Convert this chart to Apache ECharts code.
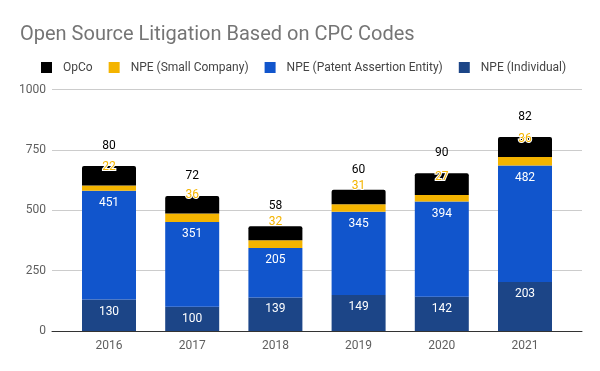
<!DOCTYPE html>
<html><head><meta charset="utf-8">
<script src="https://cdn.jsdelivr.net/npm/echarts@6/dist/echarts.min.js"></script>
<style>html,body{margin:0;padding:0;background:#fff}#c{width:600px;height:371px}</style>
</head><body><div id="c"></div>
<script>
const years = ['2016', '2017', '2018', '2019', '2020', '2021'];
const individual = [130, 100, 139, 149, 142, 203];
const pae = [451, 351, 205, 345, 394, 482];
const smallCo = [22, 36, 32, 31, 27, 36];
const opco = [80, 72, 58, 60, 90, 82];
const yMin = 0, yMax = 1000, yStep = 250;

const FONT = 'Roboto';
const chart = echarts.init(document.getElementById('c'), null, {renderer: 'canvas'});
const insideLabel = {
  show: true, position: 'insideTop', distance: 6,
  color: '#ffffff', fontSize: 12, fontFamily: FONT
};
chart.setOption({
  animation: false,
  backgroundColor: '#ffffff',
  title: {
    text: 'Open Source Litigation Based on CPC Codes',
    left: 15, top: 20,
    textStyle: {fontFamily: FONT, fontSize: 20, fontWeight: 'normal', color: '#757575'}
  },
  legend: {
    data: ['OpCo', 'NPE (Small Company)', 'NPE (Patent Assertion Entity)', 'NPE (Individual)'],
    left: 36, top: 56.5,
    itemWidth: 11, itemHeight: 11, itemGap: 16, icon: 'rect',
    textStyle: {fontFamily: FONT, fontSize: 12, color: '#444444', padding: [0, 0, 0, 6]}
  },
  grid: [
    {left: 52, right: 18, top: 89.5, bottom: 40},
    {left: 67.4, right: 33.4, top: 89.5, bottom: 40}
  ],
  xAxis: [
    {type: 'category', gridIndex: 0, data: years, axisLabel: {show: false},
     axisTick: {show: false}, axisLine: {show: true, lineStyle: {color: '#333333', width: 1}}},
    {type: 'category', gridIndex: 1, data: years,
     axisTick: {show: false}, axisLine: {show: false},
     axisLabel: {fontFamily: FONT, fontSize: 12, color: '#5f5f5f', margin: 9}}
  ],
  yAxis: [
    {type: 'value', gridIndex: 0, min: yMin, max: yMax, interval: yStep,
     axisLine: {show: false}, axisTick: {show: false},
     axisLabel: {fontFamily: FONT, fontSize: 12, color: '#5f5f5f', margin: 6,
                 formatter: v => String(v)},
     splitLine: {lineStyle: {color: '#cccccc', width: 1}}},
    {type: 'value', gridIndex: 1, min: yMin, max: yMax, interval: yStep, show: false,
     splitLine: {show: false}}
  ],
  series: [
    {name: 'NPE (Individual)', type: 'bar', stack: 's', xAxisIndex: 1, yAxisIndex: 1,
     barWidth: 54, data: individual, itemStyle: {color: '#1c4587'}, label: insideLabel},
    {name: 'NPE (Patent Assertion Entity)', type: 'bar', stack: 's', xAxisIndex: 1, yAxisIndex: 1,
     barWidth: 54, data: pae, itemStyle: {color: '#1155cc'}, label: insideLabel},
    {name: 'NPE (Small Company)', type: 'bar', stack: 's', xAxisIndex: 1, yAxisIndex: 1,
     barWidth: 54, data: smallCo, itemStyle: {color: '#f4b400'},
     label: {show: true, position: 'top', distance: 12, color: '#f4b400', fontSize: 12,
             fontFamily: FONT, textBorderColor: '#ffffff', textBorderWidth: 2}},
    {name: 'OpCo', type: 'bar', stack: 's', xAxisIndex: 1, yAxisIndex: 1,
     barWidth: 54, data: opco, itemStyle: {color: '#000000', borderRadius: [2, 2, 0, 0]},
     label: {show: true, position: 'top', distance: 14, color: '#000000', fontSize: 12, fontFamily: FONT}}
  ]
});
</script>
</body></html>
